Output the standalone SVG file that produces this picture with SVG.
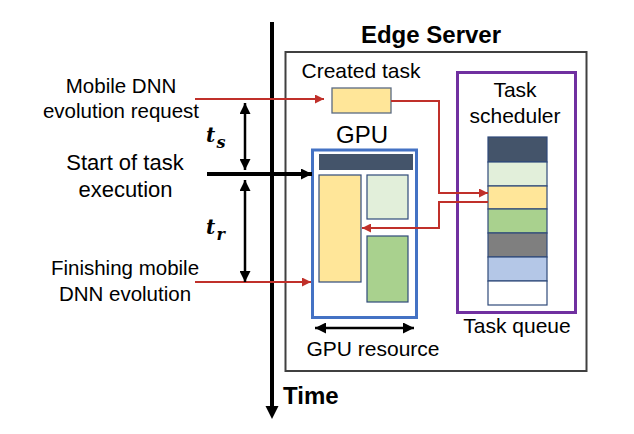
<svg xmlns="http://www.w3.org/2000/svg" width="634" height="434" viewBox="0 0 634 434">
<style>
text{font-family:"Liberation Sans",Arial,sans-serif;fill:#000}
.lbl{font-size:20.5px;text-anchor:middle}
.mid{font-size:21px;text-anchor:middle}
.big{font-size:24px;text-anchor:middle}
.bold{font-weight:bold}
.math{font-family:"DejaVu Serif","Liberation Serif",serif;font-weight:bold;font-style:italic}
.red{fill:none;stroke:#C0302A;stroke-width:2}
.blk{fill:none;stroke:#000;stroke-width:2.5}
.cell{stroke:#2F4A7A;stroke-width:1.2}
</style>
<defs>
<marker id="ra" viewBox="0 0 10 10" refX="10" refY="5" markerWidth="9" markerHeight="9" markerUnits="userSpaceOnUse" orient="auto"><path d="M0,0 L10,5 L0,10 Z" fill="#C0302A"/></marker>
<marker id="ba" viewBox="0 0 10 10" refX="10" refY="5" markerWidth="11" markerHeight="11" markerUnits="userSpaceOnUse" orient="auto-start-reverse"><path d="M0,0 L10,5 L0,10 Z" fill="#000"/></marker>
</defs>

<!-- Time axis -->
<g id="time-axis">
<line x1="272" y1="22" x2="272" y2="408" stroke="#000" stroke-width="4"/>
<polygon points="265.5,406 278.5,406 272,419" fill="#000"/>
<text x="283" y="404" font-size="24" class="bold">Time</text>
</g>

<!-- Left labels -->
<g id="label-request">
<text class="lbl" x="121" y="93">Mobile DNN</text>
<text class="lbl" x="121" y="118">evolution request</text>
</g>
<g id="label-start">
<text class="lbl" x="125" y="170" style="font-size:22px">Start of task</text>
<text class="lbl" x="125.5" y="197" style="font-size:22px">execution</text>
</g>
<g id="label-finish">
<text class="lbl" x="125" y="275">Finishing mobile</text>
<text class="lbl" x="125" y="301">DNN evolution</text>
</g>
<g id="label-ts">
<text class="math" x="206" y="142" font-size="20">t</text>
<text class="math" x="216.5" y="148" font-size="16">s</text>
</g>
<g id="label-tr">
<text class="math" x="206" y="234" font-size="20">t</text>
<text class="math" x="216.5" y="240" font-size="16">r</text>
</g>

<!-- Edge server -->
<g id="edge-server">
<rect x="285.5" y="52" width="301" height="319" fill="none" stroke="#404040" stroke-width="2"/>
<text class="big bold" x="431" y="43">Edge Server</text>
</g>

<g id="created-task">
<text class="mid" x="361" y="78">Created task</text>
<rect x="332" y="88" width="59" height="25" fill="#FFE699" stroke="#5A6A82" stroke-width="1.3"/>
</g>

<g id="gpu">
<text class="big" x="362" y="143">GPU</text>
<rect x="312.5" y="150" width="104" height="167.5" fill="#fff" stroke="#4472C4" stroke-width="3"/>
<rect x="319" y="154" width="94" height="16" fill="#44546A"/>
<rect x="319" y="175" width="42" height="107" fill="#FFE699" class="cell"/>
<rect x="367" y="175" width="41" height="44" fill="#E2EFDA" class="cell"/>
<rect x="367" y="236" width="41" height="66" fill="#A9D18E" class="cell"/>
</g>

<g id="gpu-resource">
<line class="blk" x1="315" y1="328" x2="414" y2="328" marker-start="url(#ba)" marker-end="url(#ba)"/>
<text class="mid" x="373" y="356">GPU resource</text>
</g>

<g id="task-scheduler">
<rect x="457.5" y="72.5" width="118" height="240" fill="none" stroke="#7030A0" stroke-width="3"/>
<text class="mid" x="515" y="97">Task</text>
<text class="mid" x="515" y="123">scheduler</text>
<text class="mid" x="517" y="333">Task queue</text>
</g>

<g id="task-queue">
<rect x="488" y="137" width="59" height="25" fill="#44546A" class="cell"/>
<rect x="488" y="162" width="59" height="24" fill="#E2EFDA" class="cell"/>
<rect x="488" y="186" width="59" height="23" fill="#FFE699" class="cell"/>
<rect x="488" y="209" width="59" height="24" fill="#A9D18E" class="cell"/>
<rect x="488" y="233" width="59" height="24" fill="#7F7F7F" class="cell"/>
<rect x="488" y="257" width="59" height="24" fill="#B4C7E7" class="cell"/>
<rect x="488" y="281" width="59" height="24" fill="#FFFFFF" class="cell"/>
</g>

<!-- Connectors -->
<g id="connectors">
<line class="red" x1="195" y1="99" x2="324" y2="99" marker-end="url(#ra)"/>
<polyline class="red" points="391,101 439,101 439,193 488,193" marker-end="url(#ra)"/>
<polyline class="red" points="488,202 439,202 439,228 362,228" marker-end="url(#ra)"/>
<line class="red" x1="195" y1="282" x2="311" y2="282" marker-end="url(#ra)"/>
<line x1="207" y1="174" x2="312" y2="174" stroke="#000" stroke-width="4" marker-end="url(#ba)"/>
<line class="blk" x1="245" y1="103" x2="245" y2="170" marker-start="url(#ba)" marker-end="url(#ba)"/>
<line class="blk" x1="245" y1="180" x2="245" y2="282" marker-start="url(#ba)" marker-end="url(#ba)"/>
</g>
</svg>
